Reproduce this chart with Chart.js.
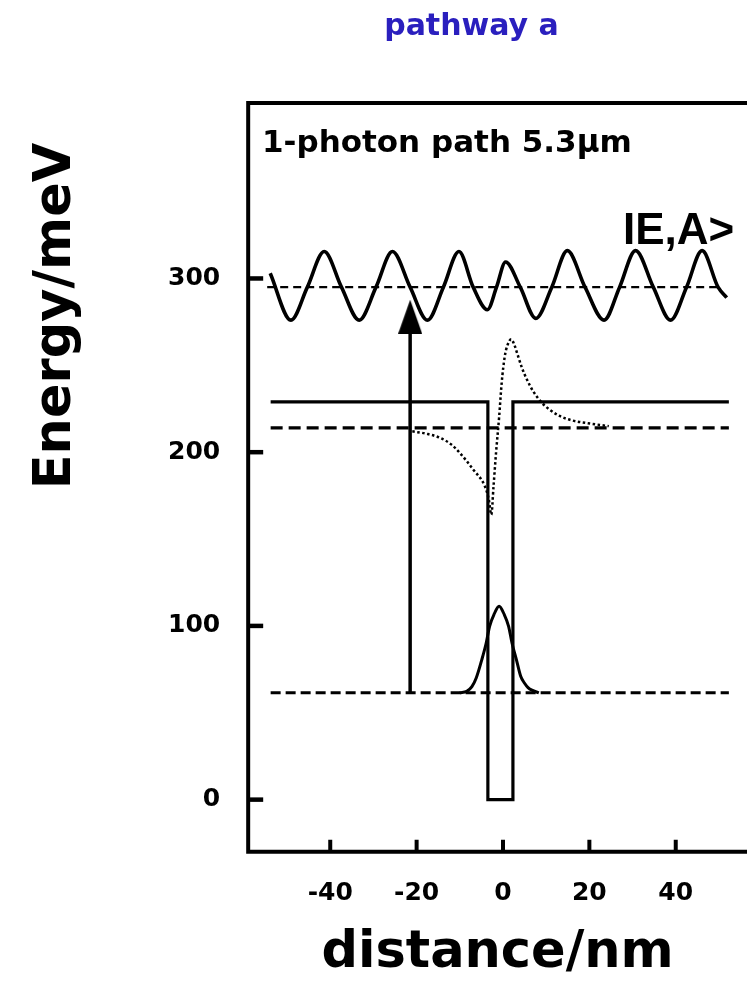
<!DOCTYPE html>
<html><head><meta charset="utf-8">
<script src="https://cdn.jsdelivr.net/npm/chart.js@4/dist/chart.umd.min.js"></script>
<style>html,body{margin:0;padding:0;background:#fff;overflow:hidden}canvas{display:block}</style>
</head><body>
<canvas id="c" width="747" height="981"></canvas>
<script>
// ---- text ----
const chartTitle = 'pathway a';
const xAxisTitle = 'distance/nm';
const yAxisTitle = 'Energy/meV';
const panelLabel = '1-photon path 5.3μm';
const stateLabel = 'IE,A>';

// ---- tick labels ----
const xTickValues = [-40, -20, 0, 20, 40];
const yTickValues = [0, 100, 200, 300];

// ---- conduction band profile (solid) ----
const bandX = [-53.8, -3.5, -3.5, 2.3, 2.3, 52.3];
const bandE = [229, 229, 0, 0, 229, 229];

// ---- energy levels (dashed) ----
const groundLevelX = [-53.8, 52.3];
const groundLevelE = [61.5, 61.5];
const barrierLevelX = [-53.8, 52.3];
const barrierLevelE = [214, 214];
const finalLevelX = [-54.6, 50.4];
const finalLevelE = [295, 295];

// ---- bound ground-state wavefunction ----
const groundWaveX = [-10, -8.4, -7.2, -6.2, -4.9, -3.9, -3.1, -2.1, -0.9, 0.3, 1.3, 2.1, 3.1, 4.1, 5.0, 5.8, 6.7, 8.3];
const groundWaveE = [61.5, 62.3, 65, 70, 80.6, 90, 99.8, 106.5, 111.3, 106.5, 99.8, 90, 80.6, 71, 67, 64.5, 63, 61.5];

// ---- quasi-bound state (dotted) ----
const dottedWaveX = [-21, -17.5, -14.6, -12, -10, -6.9, -4.2, -3.3, -2.7, -2.2, -1.6, -0.9, -0.3, 0.4, 1.1, 1.9, 2.6, 3.4, 4.4, 5.6, 7.0, 8.8, 10.8, 13, 16, 20.7, 24.5];
const dottedWaveE = [212, 210.5, 208.3, 204.5, 199.6, 190, 180.4, 173, 164, 180, 200, 220, 240, 255, 262, 265, 262, 256, 248.5, 241.5, 235, 229, 224.5, 221, 218.3, 216.3, 215];

// ---- continuum final state |E,A> ----
const finalWaveX = [-53.9, -49.1, -45.3, -41.4, -37.4, -33.3, -29.4, -25.6, -21.5, -17.5, -13.8, -10.2, -6.9, -3.6, -1.5, 0.6, 4.0, 7.6, 11.3, 14.9, 19.0, 23.4, 27.0, 30.7, 34.8, 38.8, 42.5, 46.1, 49.8, 51.8];
const finalWaveE = [303, 276, 295, 315.5, 295, 276, 295, 315.5, 295, 276, 295, 315.5, 295, 282, 295, 309.5, 295, 277, 295, 316, 295, 276, 295, 316, 295, 276, 295, 316, 295, 289];

// ---- 1-photon transition arrow ----
const arrowX = [-21.5, -21.5];
const arrowE = [61.5, 278];

function pts(xs, ys) { return xs.map((x, i) => ({ x: x, y: ys[i] })); }

// arrow head image (style)
const head = document.createElement('canvas');
head.width = 24; head.height = 34;
(function () {
  const g = head.getContext('2d');
  g.fillStyle = '#000';
  g.beginPath(); g.moveTo(12, 0); g.lineTo(24, 34); g.lineTo(0, 34); g.closePath(); g.fill();
})();

const INK = '#000';
const base = { pointRadius: 0, pointHoverRadius: 0, fill: false, borderColor: INK, showLine: true, tension: 0 };

const datasets = [
  Object.assign({}, base, { label: 'band', data: pts(bandX, bandE), borderWidth: 3.2, borderJoinStyle: 'miter' }),
  Object.assign({}, base, { label: 'ground level', data: pts(groundLevelX, groundLevelE), borderWidth: 3, borderDash: [10, 5] }),
  Object.assign({}, base, { label: 'barrier level', data: pts(barrierLevelX, barrierLevelE), borderWidth: 3.3, borderDash: [12, 6] }),
  Object.assign({}, base, { label: 'final level', data: pts(finalLevelX, finalLevelE), borderWidth: 2.2, borderDash: [8, 5] }),
  Object.assign({}, base, { label: 'ground wave', data: pts(groundWaveX, groundWaveE), borderWidth: 3, cubicInterpolationMode: 'monotone' }),
  Object.assign({}, base, { label: 'dotted wave', data: pts(dottedWaveX, dottedWaveE), borderWidth: 2.5, borderDash: [2.5, 2.5], cubicInterpolationMode: 'monotone' }),
  Object.assign({}, base, { label: 'final wave', data: pts(finalWaveX, finalWaveE), borderWidth: 3.6, cubicInterpolationMode: 'monotone' }),
  Object.assign({}, base, { label: 'arrow', data: pts(arrowX, arrowE), borderWidth: 3.5, pointRadius: [0, 12], pointHoverRadius: [0, 12], pointStyle: head, pointBackgroundColor: INK })
];

const decor = {
  id: 'decor',
  afterDatasetsDraw(chart) {
    const ctx = chart.ctx, a = chart.chartArea, xs = chart.scales.x, ys = chart.scales.y;
    ctx.save();
    ctx.strokeStyle = INK; ctx.lineWidth = 4; ctx.lineJoin = 'miter';
    ctx.beginPath();
    ctx.moveTo(a.right + 10, a.top); ctx.lineTo(a.left, a.top);
    ctx.lineTo(a.left, a.bottom); ctx.lineTo(a.right + 10, a.bottom);
    ctx.stroke();
    // inward ticks
    ctx.lineWidth = 4.5;
    yTickValues.forEach(v => { const p = ys.getPixelForValue(v); ctx.beginPath(); ctx.moveTo(a.left, p); ctx.lineTo(a.left + 15, p); ctx.stroke(); });
    ctx.lineWidth = 4;
    xTickValues.forEach(v => { const p = xs.getPixelForValue(v); ctx.beginPath(); ctx.moveTo(p, a.bottom); ctx.lineTo(p, a.bottom - 12); ctx.stroke(); });
    // in-plot labels
    ctx.fillStyle = INK; ctx.textAlign = 'left'; ctx.textBaseline = 'alphabetic';
    ctx.font = 'bold 31px "DejaVu Sans"';
    ctx.fillText(panelLabel, xs.getPixelForValue(-55.8), ys.getPixelForValue(373));
    ctx.font = 'bold 44px "Liberation Sans"';
    ctx.fillText(stateLabel, xs.getPixelForValue(27.8), ys.getPixelForValue(319.6));
    // y axis title
    ctx.save();
    ctx.translate(70, 316); ctx.rotate(-Math.PI / 2);
    ctx.textAlign = 'center'; ctx.font = 'bold 51px "DejaVu Sans"';
    ctx.fillText(yAxisTitle, 0, 0);
    ctx.restore();
    // chart title
    ctx.fillStyle = '#2a1fbe'; ctx.textAlign = 'center';
    ctx.font = 'bold 30px "DejaVu Sans"';
    ctx.fillText(chartTitle, 471.5, 35);
    ctx.restore();
  }
};

const tickFont = { family: 'DejaVu Sans', weight: 'bold', size: 25 };

new Chart(document.getElementById('c'), {
  type: 'line',
  data: { datasets: datasets },
  options: {
    responsive: false, animation: false, devicePixelRatio: 1,
    events: [],
    layout: { autoPadding: false, padding: { top: 103, right: 0, bottom: 0, left: 140 } },
    plugins: { legend: { display: false }, tooltip: { enabled: false }, title: { display: false } },
    scales: {
      x: {
        type: 'linear', position: 'bottom', min: -59, max: 56.5,
        afterBuildTicks: s => { s.ticks = xTickValues.map(v => ({ value: v })); },
        grid: { display: false, drawTicks: false }, border: { display: false },
        ticks: { padding: 26.5, color: INK, font: tickFont, maxRotation: 0, autoSkip: false },
        title: { display: true, text: xAxisTitle, color: INK, font: { family: 'DejaVu Sans', weight: 'bold', size: 51, lineHeight: 0.75 }, padding: { top: 0, bottom: 8 } }
      },
      y: {
        type: 'linear', position: 'left', min: -30, max: 401,
        afterBuildTicks: s => { s.ticks = yTickValues.map(v => ({ value: v })); },
        grid: { display: false, drawTicks: false }, border: { display: false },
        ticks: { padding: 28, color: INK, font: tickFont, autoSkip: false }
      }
    }
  },
  plugins: [decor]
});
</script>
</body></html>
